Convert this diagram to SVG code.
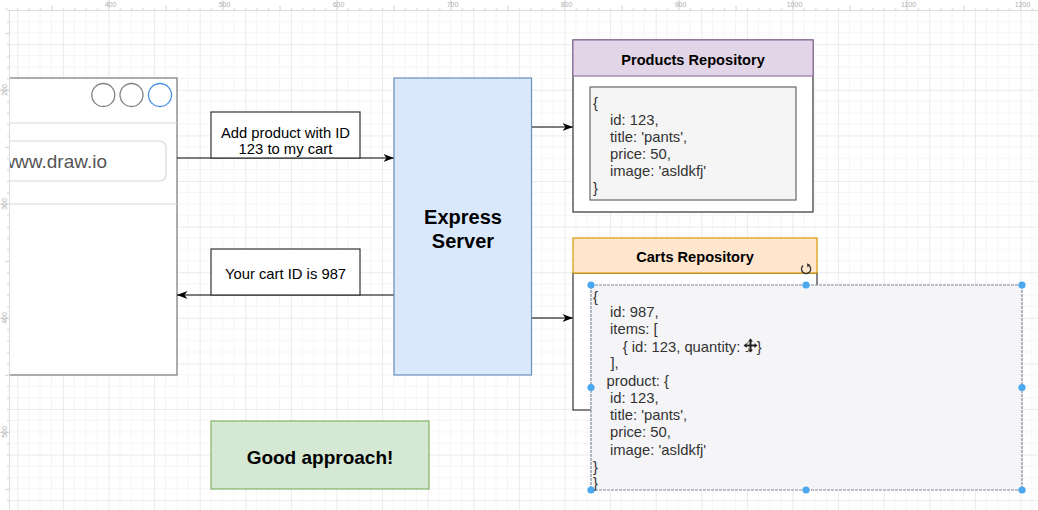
<svg xmlns="http://www.w3.org/2000/svg" width="1038" height="510" viewBox="0 0 1038 510">
<style>
text{font-family:"Liberation Sans",Arial,Helvetica,sans-serif;fill:#000}
.t{font-size:14.8px}
.b{font-weight:bold}
.code{font-size:14.8px;fill:#333}
.rl{font-size:7px;fill:#b0b0b0}
.edge{stroke:#000;stroke-width:1.2;fill:none}
.dark{stroke:#333;stroke-width:1.2}
.h{fill:#4aa8f0}
</style>
<defs>
<pattern id="grid" x="17.3" y="-1.4" width="45.6" height="45.6" patternUnits="userSpaceOnUse">
<path d="M11.4,0V45.6M22.8,0V45.6M34.2,0V45.6M0,11.4H45.6M0,22.8H45.6M0,34.2H45.6" stroke="#f5f5f5" stroke-width="1" fill="none"/>
<path d="M0.5,0V45.6M0,0.5H45.6" stroke="#ebebeb" stroke-width="1" fill="none"/>
</pattern>
<pattern id="rtop" x="108.5" y="0" width="114" height="10" patternUnits="userSpaceOnUse">
<path d="M0.5,0V10M11.9,8V10M23.3,8V10M34.7,8V10M46.1,8V10M57.5,6V10M68.9,8V10M80.3,8V10M91.7,8V10M103.1,8V10" stroke="#cfcfcf" stroke-width="1" fill="none"/>
</pattern>
<pattern id="rleft" x="0" y="89.8" width="9" height="114" patternUnits="userSpaceOnUse">
<path d="M0,0.5H9M7,11.9H9M7,23.3H9M7,34.7H9M7,46.1H9M5,57.5H9M7,68.9H9M7,80.3H9M7,91.7H9M7,103.1H9" stroke="#cfcfcf" stroke-width="1" fill="none"/>
</pattern>
<marker id="arr" markerUnits="userSpaceOnUse" markerWidth="11" markerHeight="9" refX="10.5" refY="4.5" orient="auto">
<path d="M0,0.5 L10.5,4.5 L0,8.5 L3,4.5 Z" fill="#000"/>
</marker>
</defs>
<rect x="0" y="0" width="1038" height="510" fill="#fff"/>
<rect x="0" y="0" width="1038" height="510" fill="url(#grid)"/>

<g id="browser">
<rect x="-5" y="78" width="182" height="297" fill="#fff" stroke="#777" stroke-width="1.2"/>
<line x1="0" y1="123" x2="177" y2="123" stroke="#d8d8d8" stroke-width="1.2"/>
<line x1="0" y1="204" x2="177" y2="204" stroke="#d8d8d8" stroke-width="1.2"/>
<circle cx="103.3" cy="95" r="11.5" fill="#fff" stroke="#808080" stroke-width="1.3"/>
<circle cx="131.5" cy="95" r="11.5" fill="#fff" stroke="#808080" stroke-width="1.3"/>
<circle cx="160" cy="95" r="11.5" fill="#fff" stroke="#4a90e2" stroke-width="1.3"/>
<rect x="-20" y="141" width="186" height="40" rx="6" fill="#fff" stroke="#d8d8d8" stroke-width="1.2"/>
<text x="107" y="167.5" text-anchor="end" style="font-size:19px;fill:#555">www.draw.io</text>
</g>

<g id="connectors">
<path class="edge" d="M177,158 H394" marker-end="url(#arr)"/>
<path class="edge" d="M394,295 H177" marker-end="url(#arr)"/>
<path class="edge" d="M532,127 H573" marker-end="url(#arr)"/>
<path class="edge" d="M532,318 H573" marker-end="url(#arr)"/>
</g>

<g id="label-request">
<rect x="211" y="112" width="149" height="46" fill="#fff" class="dark"/>
<text class="t" x="285.5" y="138" text-anchor="middle">Add product with ID</text>
<text class="t" x="285.5" y="154" text-anchor="middle">123 to my cart</text>
</g>

<g id="label-response">
<rect x="211" y="249" width="149" height="46" fill="#fff" class="dark"/>
<text class="t" x="285.5" y="279" text-anchor="middle">Your cart ID is 987</text>
</g>

<g id="express">
<rect x="394" y="78" width="137.5" height="297" fill="#dae8fc" stroke="#6c8ebf" stroke-width="1.2"/>
<text class="b" x="463" y="224" text-anchor="middle" style="font-size:20px">Express</text>
<text class="b" x="463" y="248" text-anchor="middle" style="font-size:20px">Server</text>
</g>

<g id="products">
<rect x="573" y="40" width="240" height="172" fill="#fff" class="dark"/>
<rect x="573" y="40" width="240" height="36" fill="#e1d5e7" stroke="#9673a6" stroke-width="1.2"/>
<text class="b" x="693" y="64.5" text-anchor="middle" style="font-size:14.6px">Products Repository</text>
<rect x="590" y="87" width="206" height="113" fill="#f5f5f5" stroke="#666" stroke-width="1.2"/>
<text class="code" x="593" y="108.3">{</text>
<text class="code" x="610" y="124.5">id: 123,</text>
<text class="code" x="610" y="141.5">title: 'pants',</text>
<text class="code" x="610" y="158.5">price: 50,</text>
<text class="code" x="610" y="175.5">image: 'asldkfj'</text>
<text class="code" x="593" y="192.5">}</text>
</g>

<g id="carts">
<rect x="573" y="273" width="244" height="137" fill="#fff" class="dark"/>
<rect x="573" y="238" width="244" height="35" fill="#ffe6cc" stroke="#d79b00" stroke-width="1.2"/>
<text class="b" x="695" y="262" text-anchor="middle" style="font-size:14.6px">Carts Repository</text>
<path d="M809.2,265.6 A4.6,4.6 0 1 1 803.2,265.4" fill="none" stroke="#333" stroke-width="1.3"/>
<path d="M806.8,263.2 L810.2,264.8 L807.6,267.4 Z" fill="#333"/>
</g>

<g id="cart-data">
<rect x="591" y="285" width="431" height="205" fill="#f5f5f7" stroke="#7f8997" stroke-width="1.2" stroke-dasharray="3 1"/>
<text class="code" x="593" y="301.7">{</text>
<text class="code" x="610" y="316.7">id: 987,</text>
<text class="code" x="610" y="334">items: [</text>
<text class="code" x="622.7" y="351.7">{ id: 123, quantity: 1 }</text>
<text class="code" x="610.5" y="368">],</text>
<text class="code" x="606.5" y="385.7">product: {</text>
<text class="code" x="610" y="402.7">id: 123,</text>
<text class="code" x="610" y="420">title: 'pants',</text>
<text class="code" x="610" y="437">price: 50,</text>
<text class="code" x="610" y="455">image: 'asldkfj'</text>
<text class="code" x="593" y="471.7">}</text>
<text class="code" x="593" y="488">}</text>
<g id="handles">
<circle class="h" cx="591" cy="285" r="3.6"/>
<circle class="h" cx="806" cy="285" r="3.6"/>
<circle class="h" cx="1022" cy="285" r="3.6"/>
<circle class="h" cx="591" cy="387.5" r="3.6"/>
<circle class="h" cx="1022" cy="387.5" r="3.6"/>
<circle class="h" cx="591" cy="490" r="3.6"/>
<circle class="h" cx="806" cy="490" r="3.6"/>
<circle class="h" cx="1022" cy="490" r="3.6"/>
</g>
<g id="cursor">
<path d="M750.5,339 V352 M744.5,345.5 H756.5" stroke="#fff" stroke-width="4" fill="none"/>
<path d="M750.5,339.5 V351.5 M745,345.5 H756" stroke="#222" stroke-width="2" fill="none"/>
<path d="M748,341.5 L750.5,338.5 L753,341.5 Z M748,349.5 L750.5,352.5 L753,349.5 Z M746.5,343 L743.5,345.5 L746.5,348 Z M754.5,343 L757.5,345.5 L754.5,348 Z" fill="#222"/>
</g>
</g>

<g id="good">
<rect x="211" y="421" width="218" height="68" fill="#d5e8d4" stroke="#82b366" stroke-width="1.2"/>
<text class="b" x="320" y="464" text-anchor="middle" style="font-size:19px">Good approach!</text>
</g>

<g id="rulers">
<rect x="0" y="0" width="1038" height="10" fill="#fff"/>
<rect x="0" y="0" width="1038" height="10" fill="url(#rtop)"/>
<line x1="0" y1="10.5" x2="1038" y2="10.5" stroke="#dcdcdc" stroke-width="1"/>
<rect x="0" y="10" width="9" height="500" fill="#fff"/>
<rect x="0" y="10" width="9" height="500" fill="url(#rleft)"/>
<line x1="9.5" y1="10" x2="9.5" y2="510" stroke="#dcdcdc" stroke-width="1"/>
<text class="rl" x="110.5" y="7" text-anchor="middle">400</text>
<text class="rl" x="224.5" y="7" text-anchor="middle">500</text>
<text class="rl" x="338.5" y="7" text-anchor="middle">600</text>
<text class="rl" x="452.5" y="7" text-anchor="middle">700</text>
<text class="rl" x="566.5" y="7" text-anchor="middle">800</text>
<text class="rl" x="680.5" y="7" text-anchor="middle">900</text>
<text class="rl" x="794.5" y="7" text-anchor="middle">1000</text>
<text class="rl" x="908.5" y="7" text-anchor="middle">1100</text>
<text class="rl" x="1022.5" y="7" text-anchor="middle">1200</text>
<text class="rl" transform="translate(6.5,90) rotate(-90)" text-anchor="middle">200</text>
<text class="rl" transform="translate(6.5,204) rotate(-90)" text-anchor="middle">300</text>
<text class="rl" transform="translate(6.5,318) rotate(-90)" text-anchor="middle">400</text>
<text class="rl" transform="translate(6.5,432) rotate(-90)" text-anchor="middle">500</text>
</g>
</svg>
